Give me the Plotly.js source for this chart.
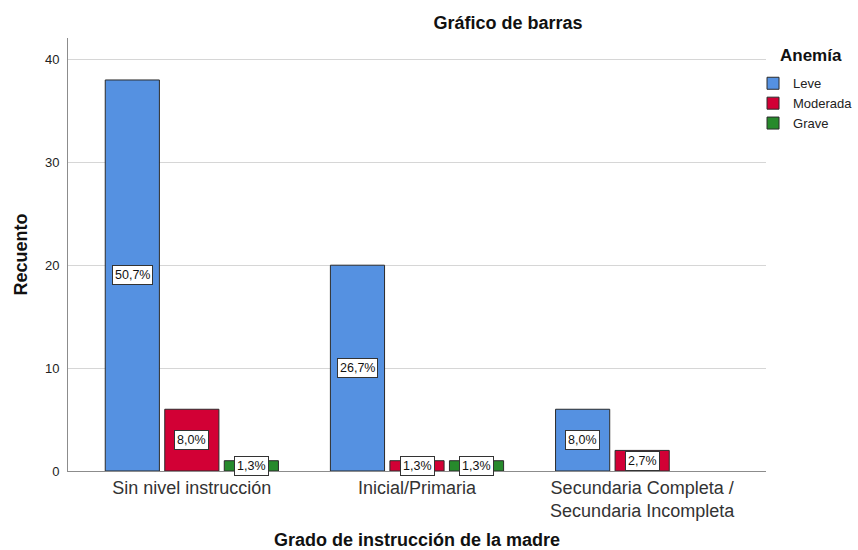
<!DOCTYPE html>
<html>
<head>
<meta charset="utf-8">
<script src="https://cdn.plot.ly/plotly-3.0.1.min.js"></script>
<style>html,body{margin:0;padding:0;background:#fff;}#chart{width:858px;height:550px;}</style>
</head>
<body>
<div id="chart"></div>
<script>
// ---- data ----
const categories = ["Sin nivel instrucción", "Inicial/Primaria", "Secundaria Completa /<br>Secundaria Incompleta"];
const seriesNames = ["Leve", "Moderada", "Grave"];
const leve = [38, 20, 6];
const moderada = [6, 1, 2];
const grave = [1, 1, 0];
const leveLabels = ["50,7%", "26,7%", "8,0%"];
const moderadaLabels = ["8,0%", "1,3%", "2,7%"];
const graveLabels = ["1,3%", "1,3%", ""];
const yTicks = [0, 10, 20, 30, 40];

// ---- styling ----
const colors = ["#5591e1", "#d20035", "#278a2c"];
const FONT = "Liberation Sans, Arial, sans-serif";
const bargap = 0.207;
const bargroupgap = 0.09;

const series = [leve, moderada, grave];
const labels = [leveLabels, moderadaLabels, graveLabels];
const xIdx = categories.map((c, i) => i);

const traces = series.map((vals, s) => ({
  type: "bar",
  name: seriesNames[s],
  x: xIdx,
  y: vals.map(v => v === 0 ? null : v),
  marker: {color: colors[s], line: {color: "#2b2b2b", width: 1}},
  hoverinfo: "y+name"
}));

// label boxes placed at the middle of each bar, using the group layout
const slot = (1 - bargap) / series.length;
const annotations = [];
series.forEach((vals, s) => {
  vals.forEach((v, i) => {
    if (!v) return;
    annotations.push({
      x: i + (s - (series.length - 1) / 2) * slot,
      y: v / 2,
      xref: "x", yref: "y",
      text: labels[s][i],
      showarrow: false,
      font: {family: FONT, size: 12.5, color: "#111"},
      bgcolor: "#ffffff",
      bordercolor: "#333",
      borderwidth: 1,
      borderpad: 2
    });
  });
});
annotations.push({
  text: "<b>Anemía</b>",
  xref: "paper", yref: "paper",
  x: 1.0172, y: 0.9607, xanchor: "left", yanchor: "middle",
  showarrow: false,
  font: {family: FONT, size: 17, color: "#111"}
});

const layout = {
  width: 858, height: 550,
  margin: {l: 68, r: 92, t: 38, b: 79, pad: 0, autoexpand: false},
  paper_bgcolor: "#fff", plot_bgcolor: "#fff",
  barmode: "group",
  bargap: bargap,
  bargroupgap: bargroupgap,
  title: {
    text: "<b>Gráfico de barras</b>",
    font: {family: FONT, size: 18, color: "#111"},
    x: 0.592, xref: "container", xanchor: "center",
    y: 0.958, yref: "container", yanchor: "middle"
  },
  xaxis: {
    range: [-0.55, 2.55],
    tickmode: "array",
    tickvals: xIdx,
    ticktext: categories,
    showgrid: false,
    zeroline: false,
    showline: true,
    linecolor: "#8c8c8c",
    linewidth: 1,
    ticks: "",
    tickfont: {family: FONT, size: 18, color: "#333"},
    title: {
      text: "<b>Grado de instrucción de la madre</b>",
      font: {family: FONT, size: 18, color: "#111"},
      standoff: 21
    },
    automargin: false,
    fixedrange: true
  },
  yaxis: {
    range: [0, 42.08],
    tickmode: "array",
    tickvals: yTicks,
    ticktext: yTicks.map(String),
    showgrid: true,
    gridcolor: "#d6d6d6",
    gridwidth: 1,
    zeroline: false,
    showline: true,
    linecolor: "#8c8c8c",
    linewidth: 1,
    ticks: "",
    ticklabelstandoff: 5,
    tickfont: {family: FONT, size: 13, color: "#222"},
    title: {
      text: "<b>Recuento</b>",
      font: {family: FONT, size: 18, color: "#111"},
      standoff: 12
    },
    automargin: false,
    fixedrange: true
  },
  showlegend: true,
  legend: {
    x: 0.9814, xanchor: "left",
    y: 0.93, yanchor: "top",
    bgcolor: "rgba(0,0,0,0)",
    font: {family: FONT, size: 13, color: "#222"},
    tracegroupgap: 0,
    itemclick: false, itemdoubleclick: false
  },
  annotations: annotations
};

Plotly.newPlot("chart", traces, layout, {displayModeBar: false, staticPlot: true});
</script>
</body>
</html>
